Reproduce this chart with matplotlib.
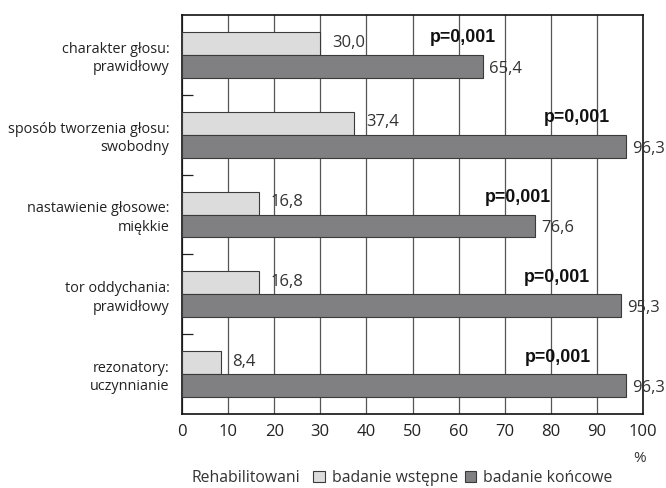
import matplotlib
matplotlib.use("Agg")
import matplotlib.pyplot as plt
from matplotlib.patches import Patch
from matplotlib.ticker import FixedLocator

plt.rcParams['font.family'] = ['Open Sans', 'DejaVu Sans']

categories = ["charakter głosu:\nprawidłowy",
              "sposób tworzenia głosu:\nswobodny",
              "nastawienie głosowe:\nmiękkie",
              "tor oddychania:\nprawidłowy",
              "rezonatory:\nuczynnianie"]
initial = [30.0, 37.4, 16.8, 16.8, 8.4]
final = [65.4, 96.3, 76.6, 95.3, 96.3]
p_labels = ["p=0,001"] * 5
p_label_x = [61.0, 85.7, 72.9, 81.3, 81.6]
xticks = [0, 10, 20, 30, 40, 50, 60, 70, 80, 90, 100]
series_names = ["badanie wstępne", "badanie końcowe"]
legend_title = "Rehabilitowani"

light = "#dcdcdd"
dark = "#808083"
edge = "#3a3a3a"

fig = plt.figure(figsize=(6.66, 4.88), dpi=100)
ax = fig.add_axes([182/666, 1-414/488, (643-182)/666, (414-15)/488])

h = 0.2875
ypos = list(range(len(categories)))
ax.barh([y - h/2 for y in ypos], initial, height=h, color=light, edgecolor=edge, linewidth=0.8, zorder=3)
ax.barh([y + h/2 for y in ypos], final, height=h, color=dark, edgecolor=edge, linewidth=0.8, zorder=3)

fmt = lambda v: f"{v:.1f}".replace(".", ",")
for y, v in zip(ypos, initial):
    ax.text(v + 2.5, y - h/2 - 0.01, fmt(v), va="center", ha="left", fontsize=12, color="#333333", zorder=4)
for y, v in zip(ypos, final):
    ax.text(v + 1.3, y + h/2 + 0.03, fmt(v), va="center", ha="left", fontsize=12, color="#333333", zorder=4,
            clip_on=False)
for y, x, t in zip(ypos, p_label_x, p_labels):
    ax.text(x, y - h/2 - 0.07, t, va="center", ha="center", fontsize=12.8, fontweight="bold",
            family=["Liberation Sans", "DejaVu Sans"], color="#111111", zorder=4)

ax.set_xlim(0, 100)
ax.set_ylim(len(categories) - 0.5, -0.5)
ax.set_xticks(xticks)
ax.set_xticklabels([str(t) for t in xticks], fontsize=12, color="#222222")
ax.tick_params(axis="x", length=0, pad=7)
ax.set_yticks(ypos)
ax.set_yticklabels(categories, fontsize=10.4, color="#222222", ha="right", linespacing=1.3)
ax.tick_params(axis="y", which="major", length=0, pad=9)
ax.yaxis.set_minor_locator(FixedLocator([0.5, 1.5, 2.5, 3.5]))
ax.tick_params(axis="y", which="minor", direction="in", length=8, width=0.9, color="#222222")

ax.grid(axis="x", color="#555555", linewidth=0.9, zorder=0)
ax.set_axisbelow(True)
for s in ax.spines.values():
    s.set_color("#111111")
    s.set_linewidth(1.2)

fig.text(640/666, 1-458/488, "%", fontsize=11, color="#333333", ha="center", va="center")
fig.text(246/666, 1-478/488, legend_title, fontsize=11.3, color="#333333", ha="center", va="center")
handles = [Patch(facecolor=light, edgecolor=edge, linewidth=0.8),
           Patch(facecolor=dark, edgecolor=edge, linewidth=0.8)]
fig.legend(handles, series_names, loc="center", bbox_to_anchor=(463/666, 1-478/488), ncol=2, frameon=False,
           fontsize=11.3, handlelength=0.75, handleheight=0.75, handletextpad=0.45, columnspacing=0.4,
           labelcolor="#333333", borderpad=0)

fig.savefig("out.png", dpi=100)
